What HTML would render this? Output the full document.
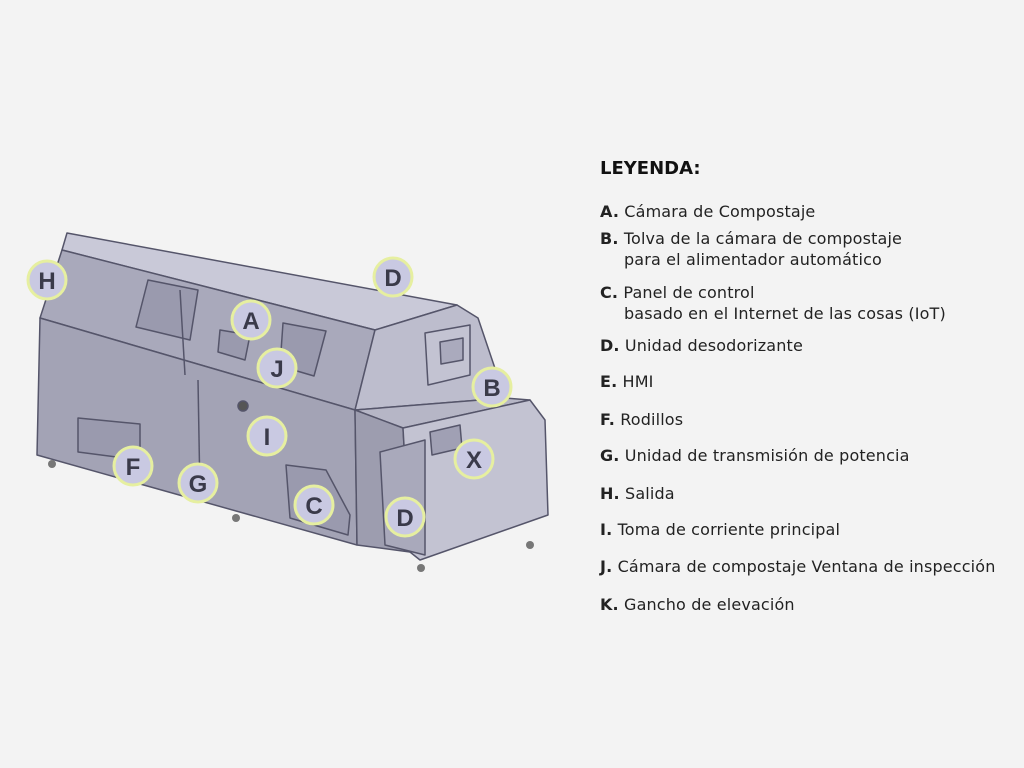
<!DOCTYPE html>
<html><head><meta charset="utf-8"><style>
body{margin:0;width:1024px;height:768px;background:#f3f3f3;overflow:hidden;position:relative;font-family:"DejaVu Sans","Liberation Sans",sans-serif;color:#222}
.t{position:absolute;left:600px;font-size:16px;letter-spacing:0.15px;white-space:nowrap;line-height:18px}
.t b{font-weight:bold}
h1{position:absolute;left:600px;top:158px;margin:0;font-size:18px;font-weight:bold;color:#111}
svg{position:absolute;left:0;top:0}
</style></head><body>
<svg width="1024" height="768" viewBox="0 0 1024 768">
<g stroke="#55556a" stroke-width="1.5" stroke-linejoin="round">
<polygon points="67,233 457,305 375,330 62,250" fill="#c9c9d8"/>
<polygon points="62,250 375,330 355,410 40,318" fill="#a9a9bb"/>
<polygon points="375,330 457,305 478,318 505,398 355,410" fill="#bdbdcd"/>
<polygon points="40,318 355,410 357,545 37,455" fill="#a3a3b5"/>
<polygon points="355,410 505,398 530,400 403,428" fill="#b6b6c6"/>
<polygon points="355,410 403,428 410,552 357,545" fill="#9d9daf"/>
<polygon points="403,428 530,400 545,420 548,515 420,560 410,552" fill="#c3c3d2"/>
<polygon points="380,452 425,440 425,555 385,545" fill="#a9a9bb"/>
<polygon points="148,280 198,290 190,340 136,327" fill="#9a9aae"/>
<polygon points="283,323 326,331 314,376 280,366" fill="#9a9aae"/>
<polygon points="220,330 250,335 245,360 218,352" fill="#9a9aae"/>
<polygon points="425,333 470,325 470,375 428,385" fill="#c3c3d2"/>
<polygon points="440,342 463,338 463,360 441,364" fill="#aaaabd"/>
<polygon points="430,432 460,425 462,448 432,455" fill="#a0a0b4"/>
<polygon points="78,418 140,424 140,460 78,452" fill="#9a9aae"/>
<polygon points="286,465 326,470 350,515 348,535 290,518" fill="#9a9aae"/>
<line x1="198" y1="380" x2="200" y2="495"/>
<line x1="180" y1="290" x2="185" y2="375"/>
<circle cx="243" cy="406" r="5" fill="#555"/>
</g>
<g fill="#777">
<circle cx="52" cy="464" r="4"/><circle cx="236" cy="518" r="4"/><circle cx="421" cy="568" r="4"/><circle cx="530" cy="545" r="4"/>
</g>
<g fill="#c9c9e2" stroke="#e6efa0" stroke-width="3">
<circle cx="47" cy="280" r="19"/><circle cx="393" cy="277" r="19"/><circle cx="251" cy="320" r="19"/>
<circle cx="277" cy="368" r="19"/><circle cx="492" cy="387" r="19"/><circle cx="474" cy="459" r="19"/>
<circle cx="267" cy="436" r="19"/><circle cx="133" cy="466" r="19"/><circle cx="198" cy="483" r="19"/>
<circle cx="314" cy="505" r="19"/><circle cx="405" cy="517" r="19"/>
</g>
<g font-family="Liberation Sans, sans-serif" font-weight="bold" font-size="24" fill="#3a3a4a" text-anchor="middle">
<text x="47" y="289">H</text><text x="393" y="286">D</text><text x="251" y="329">A</text>
<text x="277" y="377">J</text><text x="492" y="396">B</text><text x="474" y="468">X</text>
<text x="267" y="445">I</text><text x="133" y="475">F</text><text x="198" y="492">G</text>
<text x="314" y="514">C</text><text x="405" y="526">D</text>
</g>
</svg>
<h1>LEYENDA:</h1>
<div class="t" style="top:203px"><b>A.</b> Cámara de Compostaje</div>
<div class="t" style="top:230px"><b>B.</b> Tolva de la cámara de compostaje</div>
<div class="t" style="top:251px;left:624px">para el alimentador automático</div>
<div class="t" style="top:284px"><b>C.</b> Panel de control</div>
<div class="t" style="top:305px;left:624px">basado en el Internet de las cosas (IoT)</div>
<div class="t" style="top:337px"><b>D.</b> Unidad desodorizante</div>
<div class="t" style="top:373px"><b>E.</b> HMI</div>
<div class="t" style="top:411px"><b>F.</b> Rodillos</div>
<div class="t" style="top:447px"><b>G.</b> Unidad de transmisión de potencia</div>
<div class="t" style="top:485px"><b>H.</b> Salida</div>
<div class="t" style="top:521px"><b>I.</b> Toma de corriente principal</div>
<div class="t" style="top:558px"><b>J.</b> Cámara de compostaje Ventana de inspección</div>
<div class="t" style="top:596px"><b>K.</b> Gancho de elevación</div>
</body></html>
